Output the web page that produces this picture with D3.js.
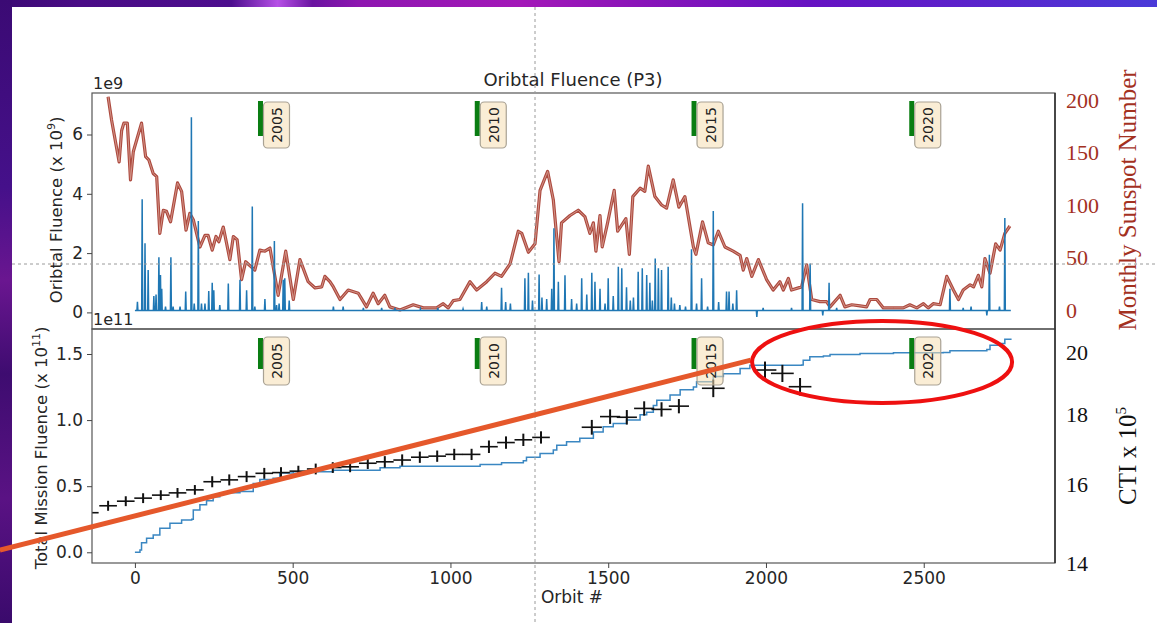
<!DOCTYPE html>
<html><head><meta charset="utf-8">
<script src="https://cdn.jsdelivr.net/npm/d3@7"></script>
<style>html,body{margin:0;padding:0;background:#fff;overflow:hidden}</style>
</head><body>
<svg id="c" width="1157" height="623"></svg>
<script>
// ---------- data ----------
const xTicks = [0, 500, 1000, 1500, 2000, 2500];
const topTicks = [0, 2, 4, 6];
const botTicks = [0.0, 0.5, 1.0, 1.5];
const sunTicks = [0, 50, 100, 150, 200];
const ctiTicks = [14, 16, 18, 20];
const years = ["2005", "2010", "2015", "2020"];
const yearOrbits = [398, 1085, 1772, 2462];

// orbital fluence spikes (x 1e9)
const fluenceBase = 0.06;
const spikeOrbits = [8,23,32,42,60,67,76,81,85,97,114,121,143,161,179,188,201,211,222,234,245,250,269,296,333,354,372,380,412,442,449,457,470,475,489,629,660,724,782,824,905,960,1040,1099,1115,1162,1175,1190,1236,1247,1260,1281,1290,1305,1321,1328,1342,1363,1384,1400,1416,1432,1448,1458,1474,1490,1500,1516,1532,1543,1558,1570,1580,1595,1608,1622,1632,1640,1649,1659,1669,1690,1700,1710,1727,1745,1764,1780,1796,1815,1833,1850,1875,1883,1895,1907,1971,1991,2081,2116,2140,2180,2200,2224,2583,2625,2650,2700,2708,2740,2757];
const spikeValues = [0.36,3.82,2.33,1.43,0.55,0.6,1.86,1.26,0.8,0.2,1.86,0.2,0.2,0.7,6.58,0.3,3.08,0.3,0.3,0.72,1.0,0.75,0.25,0.97,1.1,0.75,3.57,0.2,0.45,2.41,0.25,0.3,1.1,1.15,0.4,0.2,0.2,0.15,0.15,0.15,0.12,0.15,0.12,0.35,0.2,0.83,0.35,0.3,1.15,1.34,0.4,1.28,0.5,0.45,0.8,2.84,1.03,1.25,0.45,0.3,1.15,0.6,1.34,1.03,0.8,0.3,1.15,0.55,1.54,1.49,0.85,0.4,0.5,1.37,1.49,1.26,1.0,0.4,1.82,1.49,1.43,1.54,0.5,0.3,0.25,0.2,2.13,0.3,1.15,0.2,3.42,0.35,0.7,0.7,0.3,0.75,-0.15,0.15,0.15,3.68,1.65,-0.1,1.0,0.15,0.8,0.15,0.2,-0.1,1.94,0.2,3.18];
const fluenceEnd = 2776;

// monthly sunspot number
const sunOrbits = [-85,-74,-50,-42,-35,-24,-14,-5,21,34,44,58,69,79,90,100,113,135,148,162,174,185,206,222,232,245,257,266,280,301,312,324,338,351,380,396,412,428,454,478,502,523,549,571,592,602,618,629,650,676,708,734,755,771,792,808,840,882,914,956,977,993,1009,1030,1062,1083,1115,1141,1162,1189,1215,1226,1247,1268,1284,1308,1326,1344,1352,1379,1405,1426,1442,1453,1461,1474,1481,1498,1519,1530,1556,1567,1578,1601,1616,1627,1648,1669,1685,1706,1724,1743,1770,1778,1799,1817,1833,1849,1870,1896,1918,1928,1939,1955,1976,2002,2023,2044,2055,2071,2081,2113,2129,2145,2171,2192,2203,2235,2250,2272,2298,2319,2330,2351,2372,2404,2435,2456,2478,2499,2514,2530,2552,2573,2594,2610,2625,2647,2658,2673,2684,2694,2710,2728,2742,2757,2773];
const sunValues = [203,181,141,171,178,178,124,151,178,146,143,130,127,73,95,94,84,121,113,76,92,86,60,71,71,57,70,65,79,48,70,67,29,46,38,57,56,59,14,56,10,48,27,21,22,32,27,22,10,19,16,3,16,6,14,3,0,5,2,2,6,2,9,10,27,19,27,35,32,44,75,73,55,63,114,132,105,46,83,90,95,89,73,83,56,90,60,83,114,75,87,53,108,116,113,137,108,100,97,124,98,108,60,53,84,64,62,75,60,56,52,38,49,32,48,29,19,27,19,30,19,22,43,10,8,8,3,14,3,5,4,3,10,10,2,2,2,5,2,6,2,6,5,32,19,10,19,24,22,33,22,49,35,63,57,73,80];

// total mission fluence (x 1e11), cumulative step curve
const cumOrbits = [0,16,21,37,58,79,111,148,180,185,206,227,248,269,312,333,375,396,438,459,502,629,777,840,1094,1162,1231,1241,1284,1326,1337,1368,1410,1453,1484,1516,1558,1601,1622,1643,1654,1696,1728,1770,1780,1833,1865,1918,1949,1991,2113,2118,2139,2182,2203,2298,2404,2562,2583,2700,2710,2742,2757,2776];
const cumValues = [0,0.017,0.073,0.106,0.131,0.181,0.22,0.245,0.25,0.32,0.36,0.39,0.42,0.45,0.45,0.46,0.52,0.55,0.56,0.60,0.61,0.62,0.64,0.65,0.665,0.677,0.692,0.718,0.748,0.773,0.81,0.836,0.862,0.91,0.95,0.975,1.0,1.04,1.06,1.11,1.15,1.19,1.23,1.25,1.29,1.33,1.35,1.39,1.415,1.415,1.416,1.453,1.479,1.484,1.497,1.504,1.509,1.512,1.524,1.534,1.567,1.58,1.612,1.617];

// CTI measurements (x 1e5)
const ctiOrbits = [-143,-85,-29,26,82,135,190,245,299,354,410,463,518,573,627,682,738,792,847,903,958,1012,1067,1122,1176,1231,1287,1448,1506,1559,1614,1669,1724,1833,1997,2052,2108];
const ctiValues = [15.25,15.43,15.55,15.63,15.71,15.77,15.85,16.07,16.12,16.21,16.30,16.32,16.36,16.42,16.46,16.48,16.58,16.62,16.67,16.75,16.78,16.83,16.83,17.05,17.17,17.25,17.32,17.62,17.94,17.92,18.19,18.16,18.26,18.82,19.41,19.30,18.87];
const ctiXErr = [28,28,28,28,28,28,28,28,28,28,28,28,28,28,28,28,28,28,28,28,28,28,28,28,28,28,28,32,32,32,32,32,32,36,36,36,36];
const ctiYErr = [0.13,0.13,0.13,0.13,0.13,0.13,0.13,0.15,0.15,0.15,0.15,0.15,0.15,0.15,0.15,0.15,0.16,0.16,0.16,0.16,0.16,0.16,0.16,0.18,0.18,0.18,0.18,0.22,0.22,0.22,0.22,0.22,0.22,0.28,0.28,0.28,0.28];

// annotations (in data coordinates of lower panel)
const trendOrbits = [-428, 1952];
const trendValues = [0.017, 1.453];
const ellipseCenter = [2368, 1.44];
const ellipseRadii = [412, 0.31];

// ---------- layout ----------
const svg = d3.select("#c");
const W = 1157, H = 623;
const L = 92, R = 1055;
const topT = 93, topB = 329, botT = 329, botB = 563;
const FONT = "'DejaVu Sans', sans-serif";
const SERIF = "'Liberation Serif', 'DejaVu Serif', serif";

const x = d3.scaleLinear().domain([-136, 2916]).range([L, R]);
const yTop = d3.scaleLinear().domain([-0.56, 7.40]).range([topB, topT]);
const ySun = d3.scaleLinear().domain([0, 200]).range([310, 100]);
const yBot = d3.scaleLinear().domain([-0.081, 1.689]).range([botB, botT]);
const yCti = d3.scaleLog().domain([14, 20]).range([563.3, 352.3]);

// ---------- background ----------
const defs = svg.append("defs");
const g1 = defs.append("linearGradient").attr("id", "bgTop").attr("x1", 0).attr("x2", 1).attr("y1", 0).attr("y2", 0);
[[0,"#3b0a74"],[0.07,"#4a0c86"],[0.2,"#4d0e8e"],[0.24,"#b650e6"],[0.27,"#6a14a0"],[0.31,"#8e16b0"],[0.45,"#a318b8"],[0.55,"#8a14b8"],[0.7,"#6612c2"],[0.85,"#5a24cc"],[1,"#4a3ad8"]]
  .forEach(s => g1.append("stop").attr("offset", s[0]).attr("stop-color", s[1]));
const g2 = defs.append("linearGradient").attr("id", "bgLeft").attr("x1", 0).attr("x2", 0).attr("y1", 0).attr("y2", 1);
[[0,"#3b0a74"],[0.3,"#45108a"],[0.45,"#6a1690"],[0.6,"#3e0c70"],[0.8,"#5a1284"],[1,"#3a0a6c"]]
  .forEach(s => g2.append("stop").attr("offset", s[0]).attr("stop-color", s[1]));
svg.append("rect").attr("width", W).attr("height", H).attr("fill", "url(#bgTop)");
svg.append("rect").attr("x", 0).attr("y", 0).attr("width", 12).attr("height", H).attr("fill", "url(#bgLeft)");
svg.append("rect").attr("x", 12).attr("y", 7).attr("width", W - 12).attr("height", H - 7).attr("fill", "#fff");

// clip paths
defs.append("clipPath").attr("id", "clipTop").append("rect").attr("x", L).attr("y", topT).attr("width", R - L).attr("height", topB - topT);
defs.append("clipPath").attr("id", "clipBot").append("rect").attr("x", L).attr("y", botT).attr("width", R - L).attr("height", botB - botT);

// ---------- top panel ----------
const gTop = svg.append("g").attr("clip-path", "url(#clipTop)");

// sunspot line (twin axis)
const sunData = sunOrbits.map((o, i) => [o, sunValues[i]]);
const sunLine = d3.line().x(d => x(d[0])).y(d => ySun(d[1]));
gTop.append("path").datum(sunData).attr("d", sunLine).attr("fill", "none")
  .attr("stroke", "#ad4a3f").attr("stroke-width", 3.2).attr("stroke-linejoin", "round");
gTop.append("path").datum(sunData).attr("d", sunLine).attr("fill", "none")
  .attr("stroke", "#d39488").attr("stroke-width", 1).attr("stroke-linejoin", "round");

// orbital fluence spikes
const flu = [[0, fluenceBase]];
spikeOrbits.forEach((o, i) => {
  flu.push([o - 1.5, fluenceBase]);
  flu.push([o, spikeValues[i]]);
  flu.push([o + 1.5, fluenceBase]);
});
flu.push([fluenceEnd, fluenceBase]);
gTop.append("path").datum(flu)
  .attr("d", d3.line().x(d => x(d[0])).y(d => yTop(d[1])))
  .attr("fill", "none").attr("stroke", "#1f77b4").attr("stroke-width", 1.5);

// ---------- bottom panel ----------
const gBot = svg.append("g").attr("clip-path", "url(#clipBot)");
const cumData = cumOrbits.map((o, i) => [o, cumValues[i]]);
gBot.append("path").datum(cumData)
  .attr("d", d3.line().curve(d3.curveStepAfter).x(d => x(d[0])).y(d => yBot(d[1])))
  .attr("fill", "none").attr("stroke", "#3a87c2").attr("stroke-width", 1.5);

// CTI crosses
const cti = ctiOrbits.map((o, i) => ({o, v: ctiValues[i], xe: ctiXErr[i], ye: ctiYErr[i]}));
const cg = gBot.selectAll("g.cti").data(cti).join("g").attr("class", "cti");
cg.append("line").attr("x1", d => x(d.o - d.xe)).attr("x2", d => x(d.o + d.xe))
  .attr("y1", d => yCti(d.v)).attr("y2", d => yCti(d.v)).attr("stroke", "#111").attr("stroke-width", 1.6);
cg.append("line").attr("x1", d => x(d.o)).attr("x2", d => x(d.o))
  .attr("y1", d => yCti(d.v - d.ye)).attr("y2", d => yCti(d.v + d.ye)).attr("stroke", "#111").attr("stroke-width", 2);

// ---------- year markers ----------
[[topT, 8, 43, 9, 55], [botT, 9, 40, 8, 56]].forEach(([pt, b0, b1, k0, k1]) => {
  years.forEach((yr, i) => {
    const cx = x(yearOrbits[i]);
    svg.append("rect").attr("x", cx - 2.5).attr("y", pt + b0).attr("width", 5).attr("height", b1 - b0).attr("fill", "#0a7d12");
    svg.append("rect").attr("x", cx + 3).attr("y", pt + k0).attr("width", 26).attr("height", k1 - k0)
      .attr("rx", 4).attr("fill", "#f5deb3").attr("fill-opacity", 0.55)
      .attr("stroke", "#a9a294").attr("stroke-width", 1.2);
    svg.append("text").attr("transform", `translate(${cx + 16.5},${pt + (k0 + k1) / 2}) rotate(-90)`)
      .attr("text-anchor", "middle").attr("dominant-baseline", "central")
      .attr("font-family", FONT).attr("font-size", 14).attr("fill", "#222").text(yr);
  });
});

// ---------- frames & axes ----------
[[topT, topB], [botT, botB]].forEach(([a, b]) => {
  svg.append("rect").attr("x", L).attr("y", a).attr("width", R - L).attr("height", b - a)
    .attr("fill", "none").attr("stroke", "#555").attr("stroke-width", 1.2);
});
svg.append("line").attr("x1", R).attr("x2", R).attr("y1", topT).attr("y2", botB).attr("stroke", "#333").attr("stroke-width", 1.6);

function styleAxis(g) {
  g.select(".domain").remove();
  g.selectAll(".tick line").attr("stroke", "#444").attr("stroke-width", 1);
  g.selectAll(".tick text").attr("font-family", FONT).attr("font-size", 17).attr("fill", "#262626");
}
svg.append("g").attr("transform", `translate(${L},0)`)
  .call(d3.axisLeft(yTop).tickValues(topTicks).tickSize(5).tickPadding(4).tickFormat(d3.format("d"))).call(styleAxis);
svg.append("g").attr("transform", `translate(${L},0)`)
  .call(d3.axisLeft(yBot).tickValues(botTicks).tickSize(5).tickPadding(4).tickFormat(d3.format(".1f"))).call(styleAxis);
svg.append("g").attr("transform", `translate(0,${botB})`)
  .call(d3.axisBottom(x).tickValues(xTicks).tickSize(5).tickPadding(4).tickFormat(d3.format("d"))).call(styleAxis);

// right axes (serif overlays)
const sunAx = svg.append("g").attr("transform", `translate(${R},0)`)
  .call(d3.axisRight(ySun).tickValues(sunTicks).tickSize(0).tickPadding(11));
sunAx.select(".domain").remove();
sunAx.selectAll(".tick text").attr("font-family", SERIF).attr("font-size", 22).attr("fill", "#a3311f");
const ctiAx = svg.append("g").attr("transform", `translate(${R},0)`)
  .call(d3.axisRight(yCti).tickValues(ctiTicks).tickSize(0).tickPadding(11).tickFormat(d3.format("d")));
ctiAx.select(".domain").remove();
ctiAx.selectAll(".tick text").attr("font-family", SERIF).attr("font-size", 22).attr("fill", "#111");

// ---------- labels ----------
svg.append("text").attr("x", 573).attr("y", 86).attr("text-anchor", "middle")
  .attr("font-family", FONT).attr("font-size", 18).attr("fill", "#262626").text("Oribtal Fluence (P3)");
svg.append("text").attr("x", 93).attr("y", 89).attr("font-family", FONT).attr("font-size", 16).attr("fill", "#262626").text("1e9");
svg.append("text").attr("x", 93).attr("y", 325).attr("font-family", FONT).attr("font-size", 16).attr("fill", "#262626").text("1e11");
svg.append("text").attr("x", 572).attr("y", 603).attr("text-anchor", "middle")
  .attr("font-family", FONT).attr("font-size", 17).attr("fill", "#262626").text("Orbit #");

const yl1 = svg.append("text").attr("transform", "translate(62,210) rotate(-90)").attr("text-anchor", "middle")
  .attr("font-family", FONT).attr("font-size", 16.5).attr("fill", "#262626");
yl1.append("tspan").text("Oribtal Fluence  (x 10");
yl1.append("tspan").attr("font-size", 11).attr("dy", -7).text("9");
yl1.append("tspan").attr("dy", 7).text(")");

const yl2 = svg.append("text").attr("transform", "translate(47,448) rotate(-90)").attr("text-anchor", "middle")
  .attr("font-family", FONT).attr("font-size", 16.5).attr("fill", "#262626");
yl2.append("tspan").text("Total Mission Fluence (x 10");
yl2.append("tspan").attr("font-size", 11).attr("dy", -7).text("11");
yl2.append("tspan").attr("dy", 7).text(")");

svg.append("text").attr("transform", "translate(1136,200) rotate(-90)").attr("text-anchor", "middle")
  .attr("font-family", SERIF).attr("font-size", 25).attr("fill", "#a3311f").text("Monthly Sunspot Number");
const ctl = svg.append("text").attr("transform", "translate(1136,456) rotate(-90)").attr("text-anchor", "middle")
  .attr("font-family", SERIF).attr("font-size", 25).attr("fill", "#111");
ctl.append("tspan").text("CTI x 10");
ctl.append("tspan").attr("font-size", 15).attr("dy", -10).text("5");

// ---------- crosshair ----------
svg.append("line").attr("x1", 535).attr("x2", 535).attr("y1", 7).attr("y2", H)
  .attr("stroke", "#9a9a9a").attr("stroke-width", 1).attr("stroke-dasharray", "3,3");
svg.append("line").attr("x1", 12).attr("x2", W).attr("y1", 264).attr("y2", 264)
  .attr("stroke", "#9a9a9a").attr("stroke-width", 1).attr("stroke-dasharray", "3,3");

// ---------- annotations ----------
svg.append("line").attr("x1", x(trendOrbits[0])).attr("y1", yBot(trendValues[0]))
  .attr("x2", x(trendOrbits[1])).attr("y2", yBot(trendValues[1]))
  .attr("stroke", "#e5582b").attr("stroke-width", 5);
svg.append("ellipse").attr("cx", x(ellipseCenter[0])).attr("cy", yBot(ellipseCenter[1]))
  .attr("rx", x(ellipseCenter[0] + ellipseRadii[0]) - x(ellipseCenter[0]))
  .attr("ry", yBot(ellipseCenter[1] - ellipseRadii[1]) - yBot(ellipseCenter[1]))
  .attr("fill", "none").attr("stroke", "#ee1010").attr("stroke-width", 4);
</script>
</body></html>
